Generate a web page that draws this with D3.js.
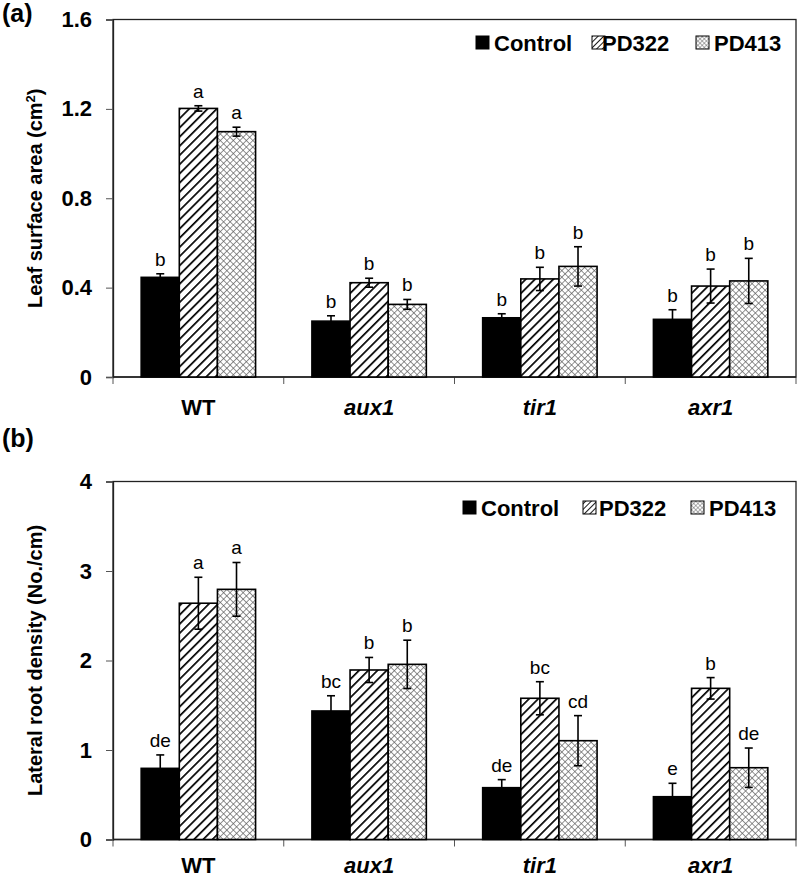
<!DOCTYPE html>
<html>
<head>
<meta charset="utf-8">
<script src="https://cdn.jsdelivr.net/npm/d3@7"></script>
<style>
  body { margin: 0; background: #fff; }
  svg { display: block; font-family: Arial, "Liberation Sans", sans-serif; }
</style>
</head>
<body>
<svg id="chart" width="800" height="877"></svg>
<script>
// data
let genotypes = ["WT", "aux1", "tir1", "axr1"];
let treatments = ["Control", "PD322", "PD413"];

// (a) leaf surface area
let leafMean = [
  [0.446, 1.202, 1.098],
  [0.25, 0.422, 0.325],
  [0.265, 0.439, 0.495],
  [0.258, 0.407, 0.43]
];
let leafErr = [
  [0.016, 0.012, 0.02],
  [0.024, 0.02, 0.022],
  [0.018, 0.052, 0.088],
  [0.043, 0.076, 0.101]
];
let leafLetters = [
  ["b", "a", "a"],
  ["b", "b", "b"],
  ["b", "b", "b"],
  ["b", "b", "b"]
];
let leafTicks = [0, 0.4, 0.8, 1.2, 1.6];

// (b) lateral root density
let rootMean = [
  [0.795, 2.64, 2.795],
  [1.436, 1.894, 1.957],
  [0.579, 1.578, 1.104],
  [0.478, 1.689, 0.802]
];
let rootErr = [
  [0.15, 0.29, 0.3],
  [0.17, 0.14, 0.27],
  [0.09, 0.185, 0.28],
  [0.15, 0.12, 0.22]
];
let rootLetters = [
  ["de", "a", "a"],
  ["bc", "b", "b"],
  ["de", "bc", "cd"],
  ["e", "b", "de"]
];
let rootTicks = [0, 1, 2, 3, 4];

let svg = d3.select("#chart");

// patterns
let defs = svg.append("defs");
function hatch(id, size, sw) {
  let p = defs.append("pattern").attr("id", id)
    .attr("patternUnits", "userSpaceOnUse")
    .attr("width", size).attr("height", size)
    .attr("patternTransform", "rotate(45)");
  p.append("rect").attr("width", size).attr("height", size).attr("fill", "#fff");
  p.append("line").attr("x1", 0).attr("y1", 0).attr("x2", 0).attr("y2", size)
    .attr("stroke", "#000").attr("stroke-width", sw);
}
function cross(id, size, sw, col) {
  let p = defs.append("pattern").attr("id", id)
    .attr("patternUnits", "userSpaceOnUse")
    .attr("width", size).attr("height", size)
    .attr("patternTransform", "rotate(45)");
  p.append("rect").attr("width", size).attr("height", size).attr("fill", "#fff");
  p.append("line").attr("x1", 0).attr("y1", 0).attr("x2", 0).attr("y2", size)
    .attr("stroke", col).attr("stroke-width", sw);
  p.append("line").attr("x1", 0).attr("y1", 0).attr("x2", size).attr("y2", 0)
    .attr("stroke", col).attr("stroke-width", sw);
}
hatch("hatch", 6.5, 3.4);
cross("cross", 4.6, 1.3, "#5a5a5a");
hatch("hatchS", 4, 1.8);
cross("crossS", 3, 0.9, "#555");

let fills = ["#000", "url(#hatch)", "url(#cross)"];
let legendFills = ["#000", "url(#hatchS)", "url(#crossS)"];

function drawPanel(opt) {
  let left = 113, right = 796;
  let g = svg.append("g");

  let y = d3.scaleLinear().domain([0, opt.yMax]).range([opt.bottom, opt.top]);
  let x = d3.scaleBand().domain(genotypes).range([left, right]);
  let xs = d3.scaleBand().domain(treatments)
    .range([x.bandwidth() * 0.165, x.bandwidth() * 0.835]);

  // frame
  g.append("rect")
    .attr("x", left).attr("y", opt.top)
    .attr("width", right - left).attr("height", opt.bottom - opt.top)
    .attr("fill", "none").attr("stroke", "#222").attr("stroke-width", 1.3);

  // y axis
  let axisY = d3.axisLeft(y).tickValues(opt.ticks).tickSize(7).tickPadding(14)
    .tickFormat(opt.fmt);
  let gy = g.append("g").attr("transform", `translate(${left},0)`).call(axisY);
  gy.select(".domain").attr("stroke", "#222").attr("stroke-width", 1.3);
  gy.selectAll(".tick line").attr("stroke", "#555");
  gy.selectAll(".tick text").attr("font-size", 22).attr("font-weight", "bold")
    .attr("fill", "#000").attr("font-family", "Arial, 'Liberation Sans', sans-serif");

  // x axis ticks at category boundaries
  let bounds = genotypes.map(d => x(d)).concat([right]);
  g.selectAll(".xt").data(bounds).enter().append("line")
    .attr("x1", d => d).attr("x2", d => d)
    .attr("y1", opt.bottom).attr("y2", opt.bottom + 7)
    .attr("stroke", "#555").attr("stroke-width", 1);
  g.append("line").attr("x1", left).attr("x2", right)
    .attr("y1", opt.bottom).attr("y2", opt.bottom)
    .attr("stroke", "#222").attr("stroke-width", 1.3);

  g.selectAll(".xl").data(genotypes).enter().append("text")
    .attr("x", d => x(d) + x.bandwidth() / 2)
    .attr("y", opt.bottom + opt.xLabelOff)
    .attr("text-anchor", "middle")
    .attr("font-size", 22).attr("font-weight", "bold")
    .attr("font-style", d => d === "WT" ? "normal" : "italic")
    .text(d => d);

  // bars
  genotypes.forEach((gen, i) => {
    let gg = g.append("g").attr("transform", `translate(${x(gen)},0)`);
    treatments.forEach((tr, j) => {
      let v = opt.mean[i][j], e = opt.err[i][j];
      let bx = xs(tr), bw = xs.bandwidth(), cx = bx + bw / 2;
      gg.append("rect")
        .attr("x", bx).attr("y", y(v))
        .attr("width", bw).attr("height", y(0) - y(v))
        .attr("fill", fills[j]).attr("stroke", "#000").attr("stroke-width", 1.6);
      gg.append("line").attr("x1", cx).attr("x2", cx)
        .attr("y1", y(v - e)).attr("y2", y(v + e))
        .attr("stroke", "#000").attr("stroke-width", 1.6);
      [v - e, v + e].forEach(t => {
        gg.append("line").attr("x1", cx - 4).attr("x2", cx + 4)
          .attr("y1", y(t)).attr("y2", y(t))
          .attr("stroke", "#000").attr("stroke-width", 1.6);
      });
      gg.append("text")
        .attr("x", cx).attr("y", y(v + e) - 8)
        .attr("text-anchor", "middle")
        .attr("font-size", 19)
        .text(opt.letters[i][j]);
    });
  });

  // legend
  let lg = g.append("g");
  opt.legend.forEach((l, j) => {
    lg.append("rect")
      .attr("x", l.bx).attr("y", opt.legendY - 7)
      .attr("width", 13).attr("height", 13)
      .attr("fill", legendFills[j]).attr("stroke", "#000").attr("stroke-width", 1);
    lg.append("text")
      .attr("x", l.tx).attr("y", opt.legendY + 8)
      .attr("font-size", 22).attr("font-weight", "bold")
      .text(treatments[j]);
  });

  // y title
  g.append("text")
    .attr("transform", `translate(42,${(opt.top + opt.bottom) / 2}) rotate(-90)`)
    .attr("text-anchor", "middle")
    .attr("font-size", 20).attr("font-weight", "bold")
    .html(opt.title);

  // panel label
  g.append("text")
    .attr("x", 2).attr("y", opt.labelY)
    .attr("font-size", 25).attr("font-weight", "bold")
    .text(opt.label);
}

drawPanel({
  top: 19.5, bottom: 377, yMax: 1.6, xLabelOff: 38,
  ticks: leafTicks, fmt: d => d === 0 ? "0" : d3.format(".1f")(d),
  mean: leafMean, err: leafErr, letters: leafLetters,
  legendY: 43,
  legend: [{bx: 476, tx: 494}, {bx: 592, tx: 602}, {bx: 696, tx: 714}],
  title: 'Leaf surface area (cm<tspan dy="-7" font-size="13">2</tspan><tspan dy="7">)</tspan>',
  label: "(a)", labelY: 22
});

drawPanel({
  top: 481.5, bottom: 839.5, yMax: 4, xLabelOff: 33,
  ticks: rootTicks, fmt: d3.format("d"),
  mean: rootMean, err: rootErr, letters: rootLetters,
  legendY: 508,
  legend: [{bx: 463, tx: 481}, {bx: 583, tx: 599}, {bx: 691, tx: 709}],
  title: "Lateral root density (No./cm)",
  label: "(b)", labelY: 447
});
</script>
</body>
</html>
